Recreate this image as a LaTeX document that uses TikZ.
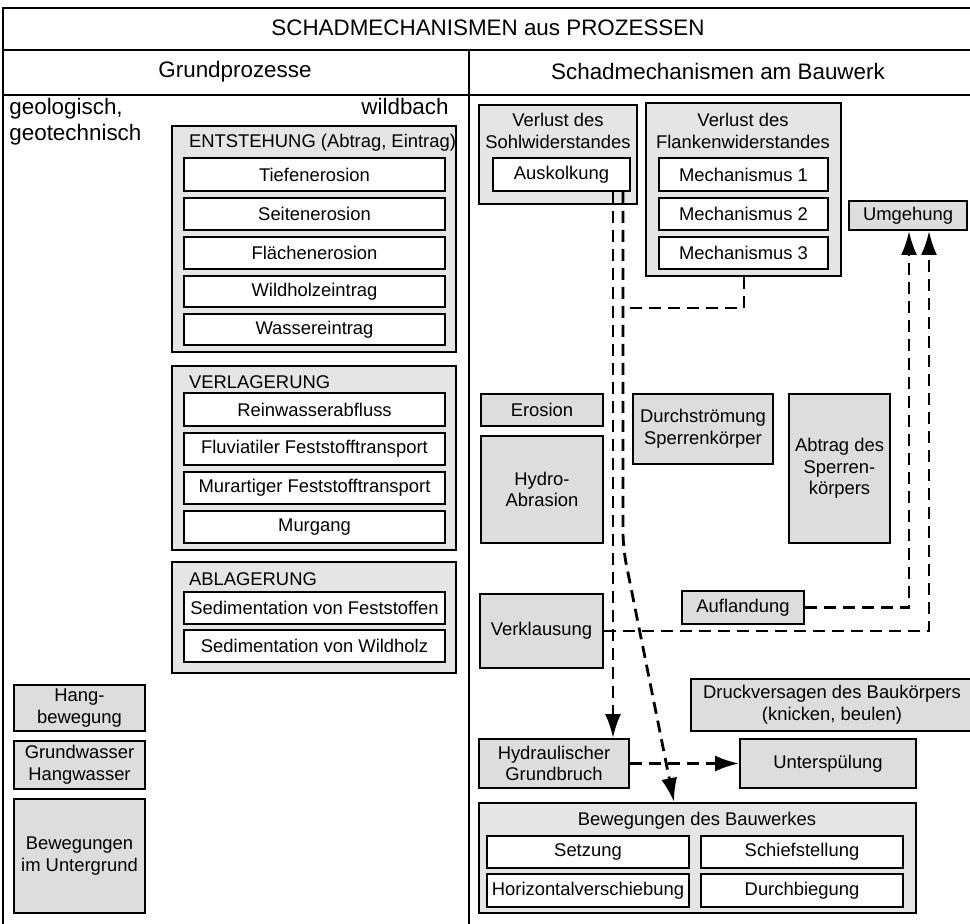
\documentclass[tikz,border=0pt]{standalone}
\usepackage{fontspec}
\setmainfont{Liberation Sans}
\usetikzlibrary{fit,arrows.meta}

\tikzset{
  txt/.style={font=\fontsize{9.2}{10.8}\selectfont},
  head/.style={font=\fontsize{11.2}{13}\selectfont},
  frame/.style={line width=0.9pt},
  box/.style={draw, line width=0.95pt, inner sep=0pt},
  wbox/.style={box, fill=white},
  gbox/.style={box, fill=gray!20},
  dbox/.style={box, fill=gray!27},
  inner/.style={label={[txt, align=center]center:{#1}}},
  dline/.style={line width=1.4pt, dash pattern=on 6pt off 3.5pt}
}

\begin{document}
\begin{tikzpicture}[x=0.5pt, y=-0.5pt, >={Latex[length=12pt,width=8pt]}]
	\useasboundingbox (0,0) rectangle (970,924);
	%\draw [help lines] (0,0) grid (970,924);

	% Rahmen
	\draw[frame] (975,8) -- (3,8) -- (3,930);
	\draw[frame] (3,50) -- (975,50)
	      (3,95) -- (975,95)
	      (469,50) -- (469,930);
	\node[head] (titel) at (488,28) {SCHADMECHANISMEN aus PROZESSEN};
	\node[head] (grundp) at (235,72) {Grundprozesse};
	\node[head] (schadm) at (718,72) {Schadmechanismen am Bauwerk};

	% Grundprozesse
	\node[head, anchor=north west, inner sep=0pt, align=left] (geo) at (9,98) {geologisch,\\geotechnisch};
	\node[head, anchor=north east, inner sep=0pt] (wild) at (449,98) {wildbach};

	\node[gbox, fit={(172,126) (456,352)}] (entst) {};
	\node[txt, anchor=west] (entstT) at (182,143) {ENTSTEHUNG (Abtrag, Eintrag)};
	\node[wbox, fit={(184,158) (445,191)}, inner={Tiefenerosion}] (tiefe) {};
	\node[wbox, fit={(184,198) (445,230)}, inner={Seitenerosion}] (seite) {};
	\node[wbox, fit={(184,237) (445,269)}, inner={Flächenerosion}] (flaeche) {};
	\node[wbox, fit={(184,276) (445,307)}, inner={Wildholzeintrag}] (holzein) {};
	\node[wbox, fit={(184,314) (445,345)}, inner={Wassereintrag}] (wasserein) {};

	\node[gbox, fit={(172,366) (456,550)}] (verl) {};
	\node[txt, anchor=west] (verlT) at (182,382) {VERLAGERUNG};
	\node[wbox, fit={(184,393) (445,426)}, inner={Reinwasserabfluss}] (reinw) {};
	\node[wbox, fit={(184,433) (445,465)}, inner={Fluviatiler Feststofftransport}] (fluv) {};
	\node[wbox, fit={(184,472) (445,504)}, inner={Murartiger Feststofftransport}] (murart) {};
	\node[wbox, fit={(184,511) (445,543)}, inner={Murgang}] (murg) {};

	\node[gbox, fit={(172,562) (456,673)}] (abl) {};
	\node[txt, anchor=west] (ablT) at (182,579) {ABLAGERUNG};
	\node[wbox, fit={(184,592) (445,624)}, inner={Sedimentation von Feststoffen}] (sedfest) {};
	\node[wbox, fit={(184,630) (445,662)}, inner={Sedimentation von Wildholz}] (sedholz) {};

	\node[dbox, fit={(14,685) (145,731)}, inner={Hang-\\bewegung}] (hang) {};
	\node[dbox, fit={(14,741) (145,789)}, inner={Grundwasser\\Hangwasser}] (gwasser) {};
	\node[dbox, fit={(14,799) (145,913)}, inner={Bewegungen\\im Untergrund}] (untergr) {};

	% Schadmechanismen
	\node[gbox, fit={(479,105) (637,204)}] (sohl) {};
	\node[txt, align=center] (sohlT) at (558,131) {Verlust des\\Sohlwiderstandes};
	\node[wbox, fit={(493,158) (630,191)}, inner={Auskolkung}] (ausk) {};

	\node[gbox, fit={(646,103) (841,276)}] (flank) {};
	\node[txt, align=center] (flankT) at (743,131) {Verlust des\\Flankenwiderstandes};
	\node[wbox, fit={(659,158) (828,191)}, inner={Mechanismus 1}] (mech1) {};
	\node[wbox, fit={(659,198) (828,230)}, inner={Mechanismus 2}] (mech2) {};
	\node[wbox, fit={(659,237) (828,269)}, inner={Mechanismus 3}] (mech3) {};

	\node[dbox, fit={(849,201) (967,230)}, inner={Umgehung}] (umg) {};

	\node[dbox, fit={(481,394) (603,426)}, inner={Erosion}] (eros) {};
	\node[dbox, fit={(481,436) (603,543)}, inner={Hydro-\\Abrasion}] (hydabr) {};
	\node[dbox, fit={(633,394) (773,464)}, inner={Durchströmung\\Sperrenkörper}] (durchstr) {};
	\node[dbox, fit={(789,394) (890,543)}, inner={Abtrag des\\Sperren-\\körpers}] (abtrag) {};

	\node[dbox, fit={(682,591) (804,624)}, inner={Auflandung}] (aufl) {};
	\node[dbox, fit={(480,594) (603,668)}, inner={Verklausung}] (verkl) {};

	\node[dbox, fit={(691,679) (973,731)}, inner={Druckversagen des Baukörpers\\(knicken, beulen)}] (druck) {};
	\node[dbox, fit={(479,739) (629,788)}, inner={Hydraulischer\\Grundbruch}] (hydgb) {};
	\node[dbox, fit={(740,739) (916,788)}, inner={Unterspülung}] (unterspl) {};

	\node[gbox, fit={(479,803) (916,913)}] (bew) {};
	\node[txt] (bewT) at (697,821) {Bewegungen des Bauwerkes};
	\node[wbox, fit={(487,836) (689,868)}, inner={Setzung}] (setz) {};
	\node[wbox, fit={(701,836) (903,868)}, inner={Schiefstellung}] (schief) {};
	\node[wbox, fit={(487,874) (689,907)}, inner={Horizontalverschiebung}] (horiz) {};
	\node[wbox, fit={(701,874) (903,907)}, inner={Durchbiegung}] (durchb) {};

	% Verbindungen
	\coordinate (kA) at (613,0);
	\coordinate (kB) at (623,0);
	\coordinate (kC) at (674,0);
	\coordinate (kD) at (744,308);
	\coordinate (kE) at (623,548);
	\coordinate (kF) at (929,0);
	\coordinate (kG) at (909,0);

	\draw[dline, ->] (ausk.south -| kA) -- (hydgb.north -| kA);
	\draw[dline, ->, rounded corners=8pt] (ausk.south -| kB) -- (kE) -- (bew.north -| kC);
	\draw[dline] (flank.south -| kD) -- (kD) -- (kB |- kD);
	\draw[dline, ->] (verkl.east) -| (umg.south -| kF);
	\draw[dline, ->] (aufl.east) -| (umg.south -| kG);
	\draw[dline, ->] (hydgb.east) -- (unterspl.west);
\end{tikzpicture}
\end{document}
